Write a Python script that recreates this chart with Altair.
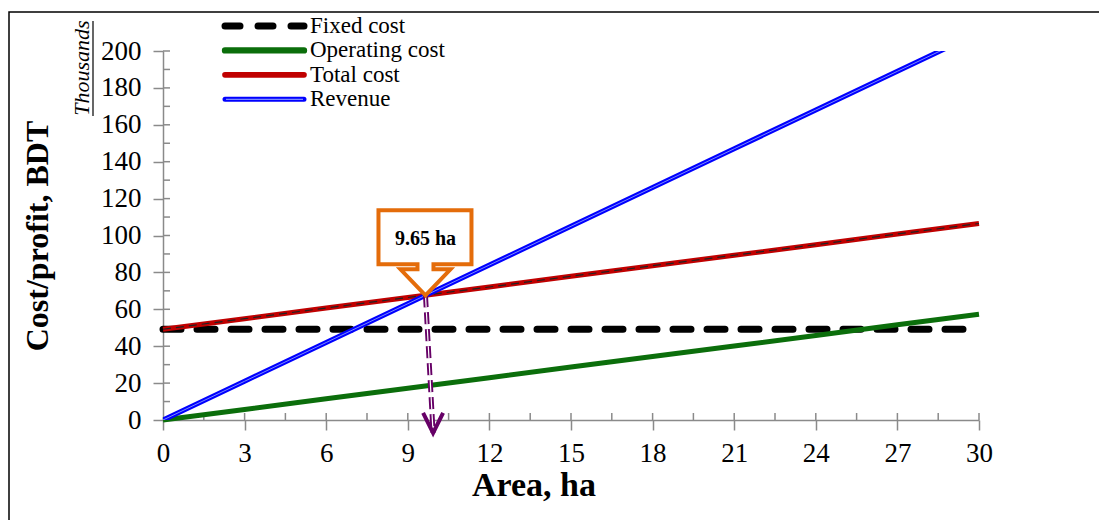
import altair as alt
import pandas as pd

# ---------------- data ----------------
area = [0, 3, 6, 9, 12, 15, 18, 21, 24, 27, 30]
fixed_cost = [49.2, 49.2, 49.2, 49.2, 49.2, 49.2, 49.2, 49.2, 49.2, 49.2, 49.2]
operating_cost = [0, 5.7, 11.5, 17.2, 22.9, 28.7, 34.4, 40.1, 45.8, 51.6, 57.3]
total_cost = [49.2, 54.9, 60.7, 66.4, 72.1, 77.9, 83.6, 89.3, 95.0, 100.8, 106.5]
revenue = [0, 21, 42, 63, 84, 105, 126, 147, 168, 189, 210]

series_names = ["Fixed cost", "Operating cost", "Total cost", "Revenue"]
series_colors = ["#000000", "#0b6e0b", "#c00000", "#0000ff"]

bep_area = [9.65]
bep_value = [67.6]
bep_label = ["9.65 ha"]
arrow_area = [9.65, 9.93]
arrow_value = [67.6, -7]

x_ticks = [0, 3, 6, 9, 12, 15, 18, 21, 24, 27, 30]
y_ticks = [0, 20, 40, 60, 80, 100, 120, 140, 160, 180, 200]
x_minor = [1.5, 3, 4.5, 6, 7.5, 9, 10.5, 12, 13.5, 15, 16.5, 18, 19.5, 21,
           22.5, 24, 25.5, 27, 28.5, 30]
y_minor = [10, 20, 30, 40, 50, 60, 70, 80, 90, 100, 110, 120, 130, 140, 150,
           160, 170, 180, 190, 200]
unit_label = ["Thousands"]

# ---------------- styles ----------------
FONT = "Liberation Serif"
AX = "#8a8a8a"
W, H = 816, 369

x_axis = alt.Axis(values=x_ticks, title="Area, ha", titleFont=FONT, titleFontSize=34,
                  titleFontWeight="bold", titleColor="black", titleX=370.5, titleY=75,
                  titleBaseline="alphabetic", titleAlign="center",
                  labelFont=FONT, labelFontSize=27, labelColor="black", labelPadding=10,
                  labelFlush=False, labelOverlap=False, tickColor=AX, tickWidth=1.5,
                  tickSize=10, domainColor=AX, domainWidth=1.5, grid=False)
y_axis = alt.Axis(values=y_ticks, title="Cost/profit, BDT", titleFont=FONT, titleFontSize=32,
                  titleFontWeight="bold", titleColor="black", titleX=-116, titleY=184.5,
                  titleAngle=270, titleBaseline="alphabetic", titleAlign="center",
                  labelFont=FONT, labelFontSize=27, labelColor="black", labelPadding=12,
                  labelFlush=False, labelOverlap=False, tickColor=AX, tickWidth=1.5,
                  tickSize=10, domainColor=AX, domainWidth=1.5, grid=False)
x_scale = alt.Scale(domain=[0, 30], nice=False, zero=False)
y_scale = alt.Scale(domain=[0, 200], nice=False)


def X(field):
    return alt.X(field, scale=x_scale, axis=x_axis)


def Y(field):
    return alt.Y(field, scale=y_scale, axis=y_axis)


def sdf(vals):
    return pd.DataFrame({"area": area, "value": vals})


misc_df = pd.DataFrame({"t": unit_label})

frame = alt.Chart(misc_df).mark_rect(fillOpacity=0, stroke="black", strokeWidth=1.5).encode(
    x=alt.value(-154), x2=alt.value(1100), y=alt.value(-39), y2=alt.value(700))

xm = alt.Chart(pd.DataFrame({"v": x_minor})).mark_rule(color=AX, strokeWidth=1.5).encode(
    x=X("v:Q"), y=alt.value(H - 7), y2=alt.value(H))
ym = alt.Chart(pd.DataFrame({"v": y_minor})).mark_rule(color=AX, strokeWidth=1.5).encode(
    y=Y("v:Q"), x=alt.value(0), x2=alt.value(7))

fixed = alt.Chart(sdf(fixed_cost)).mark_line(
    color=series_colors[0], strokeWidth=7, strokeDash=[18, 16], strokeCap="round").encode(
    x=X("area:Q"), y=Y("value:Q"))
oper = alt.Chart(sdf(operating_cost)).mark_line(
    color=series_colors[1], strokeWidth=5).encode(x=X("area:Q"), y=Y("value:Q"))
total = alt.Chart(sdf(total_cost)).mark_line(
    color=series_colors[2], strokeWidth=5).encode(x=X("area:Q"), y=Y("value:Q"))
total_in = alt.Chart(sdf(total_cost)).mark_line(
    color="#222222", strokeWidth=1.2, strokeDash=[8, 5]).encode(x=X("area:Q"), y=Y("value:Q"))
rev = alt.Chart(sdf(revenue)).mark_line(
    color=series_colors[3], strokeWidth=5, clip=True).encode(x=X("area:Q"), y=Y("value:Q"))
rev_in = alt.Chart(sdf(revenue)).mark_line(
    color="#7d8aff", strokeWidth=1, clip=True).encode(x=X("area:Q"), y=Y("value:Q"))

arrow_df = pd.DataFrame({"area": arrow_area, "value": arrow_value})
arrow = alt.Chart(arrow_df).mark_line(color="#660066", strokeWidth=5, strokeDash=[12, 5]).encode(
    x=X("area:Q"), y=Y("value:Q"))
arrow_in = alt.Chart(arrow_df).mark_line(color="white", strokeWidth=1.2, strokeDash=[12, 5]).encode(
    x=X("area:Q"), y=Y("value:Q"))
head = alt.Chart(arrow_df.tail(1)).mark_point(
    shape="M -1 -2 L 0 0 L 1 -2", size=400, filled=False, stroke="#660066",
    strokeWidth=4, opacity=1).encode(x=X("area:Q"), y=Y("value:Q"))

bep_df = pd.DataFrame({"area": bep_area, "value": bep_value, "label": bep_label})
CALLOUT = ("M -0.94 -1.7 L 0.92 -1.7 L 0.92 -0.62 L 0.16 -0.62 L 0.16 -0.52 L 0.5 -0.52 "
           "L 0 0 L -0.5 -0.52 L -0.16 -0.52 L -0.16 -0.62 L -0.94 -0.62 Z")
callout = alt.Chart(bep_df).mark_point(
    shape=CALLOUT, size=10000, filled=True, fill="white", stroke="#e46c0a",
    strokeWidth=4, opacity=1, strokeJoin="miter").encode(x=X("area:Q"), y=Y("value:Q"))
callout_text = alt.Chart(bep_df).mark_text(
    font=FONT, fontSize=20, fontWeight="bold", color="black", dy=-56).encode(
    x=X("area:Q"), y=Y("value:Q"), text="label:N")

main = alt.layer(frame, xm, ym, fixed, oper, total, total_in, rev, rev_in,
                 arrow, arrow_in, head, callout, callout_text)

# ---------------- legend (own point scale) ----------------
leg_df = pd.DataFrame({"series": series_names})
LY = alt.Y("series:N", scale=alt.Scale(type="point", domain=series_names,
                                       range=[-25, 48.3], padding=0), axis=None)
leg_lines = alt.Chart(leg_df).mark_rule(strokeCap="round").encode(
    x=alt.value(62), x2=alt.value(141), y=LY,
    color=alt.Color("series:N", scale=alt.Scale(domain=series_names, range=series_colors), legend=None),
    strokeDash=alt.StrokeDash("series:N", scale=alt.Scale(
        domain=series_names, range=[[15, 18], [1, 0], [1, 0], [1, 0]]), legend=None),
    strokeWidth=alt.StrokeWidth("series:N", scale=alt.Scale(
        domain=series_names, range=[7, 5, 5, 5]), legend=None),
)
leg_inner = alt.Chart(pd.DataFrame({"series": [series_names[3]]})).mark_rule(
    color="#7d8aff", strokeWidth=1.2).encode(x=alt.value(63), x2=alt.value(140), y=LY)
leg_text = alt.Chart(leg_df).mark_text(
    font=FONT, fontSize=23, color="black", align="left", baseline="middle").encode(
    x=alt.value(147), y=LY, text="series:N")

thousands = alt.Chart(misc_df).mark_text(
    font=FONT, fontSize=22, fontStyle="italic", color="black", angle=270,
    align="center", baseline="alphabetic").encode(
    x=alt.value(-74), y=alt.value(17), text="t:N")
underline = alt.Chart(misc_df).mark_rule(color="black", strokeWidth=1.2).encode(
    x=alt.value(-70), y=alt.value(-30), y2=alt.value(65))

legend = alt.layer(leg_lines, leg_inner, leg_text, thousands, underline)

chart = alt.layer(main, legend).resolve_scale(
    y="independent", color="independent", strokeDash="independent", strokeWidth="independent"
).properties(
    width=W, height=H,
    padding={"left": 155, "top": 43, "right": 120, "bottom": 100},
    autosize=alt.AutoSizeParams(type="none"),
    background="white",
).configure_view(strokeWidth=0)

chart.save("out.html", embed_options={"renderer": "svg", "actions": False})
